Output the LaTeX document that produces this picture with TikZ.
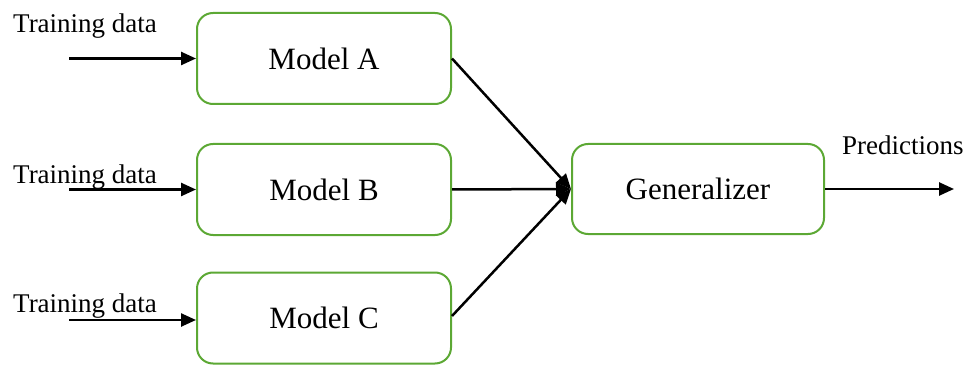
\documentclass[tikz,border=0pt]{standalone}
\usepackage{fontspec}
\setmainfont{Liberation Serif}
\usetikzlibrary{arrows.meta}
\definecolor{boxgreen}{RGB}{92,168,52}
\tikzset{
  modelbox/.style={draw=boxgreen, line width=2pt, rounded corners=16pt, fill=white,
    minimum width=254pt, minimum height=91pt, inner sep=0pt,
    font=\fontsize{31}{36}\selectfont},
  flow/.style={line width=2.5pt, -{Triangle[length=15pt,width=13pt]}},
  lbl/.style={anchor=base west, inner sep=0pt, font=\fontsize{27}{32}\selectfont}
}
\begin{document}
\begin{tikzpicture}[x=1pt,y=-1pt]
  \useasboundingbox (0,0) rectangle (979,366);
  % models and the combining stage
  \node[modelbox] (ma) at (324,58.5) {Model A};
  \node[modelbox] (mb) at (324,189.5) {Model B};
  \node[modelbox] (mc) at (324,318) {Model C};
  \node[modelbox, minimum width=252pt, minimum height=90pt] (gen) at (698,189) {Generalizer};
  % input labels
  \node[lbl] (ta) at (13,33) {Training data};
  \node[lbl] (tb) at (13,183) {Training data};
  \node[lbl] (tc) at (13,312) {Training data};
  \node[lbl] (pr) at (842,155) {Predictions};
  % free ends of the input and output arrows
  \coordinate (ina) at (69,58.5);
  \coordinate (inb) at (69,189.5);
  \coordinate (inc) at (69,320);
  \coordinate (out) at (954,189);
  \coordinate (merge) at (571,189);
  % arrows
  \draw[flow] (ina) -- (ma.west |- ina);
  \draw[flow] (inb) -- (mb.west |- inb);
  \draw[flow] (inc) -- (mc.west |- inc);
  \draw[flow] (ma.east) -- (merge);
  \draw[flow] (mb.east) -- (merge);
  \draw[flow] ([yshift=2pt]mc.east) -- (merge);
  \draw[flow] (gen.east) -- (out);
\end{tikzpicture}
\end{document}
